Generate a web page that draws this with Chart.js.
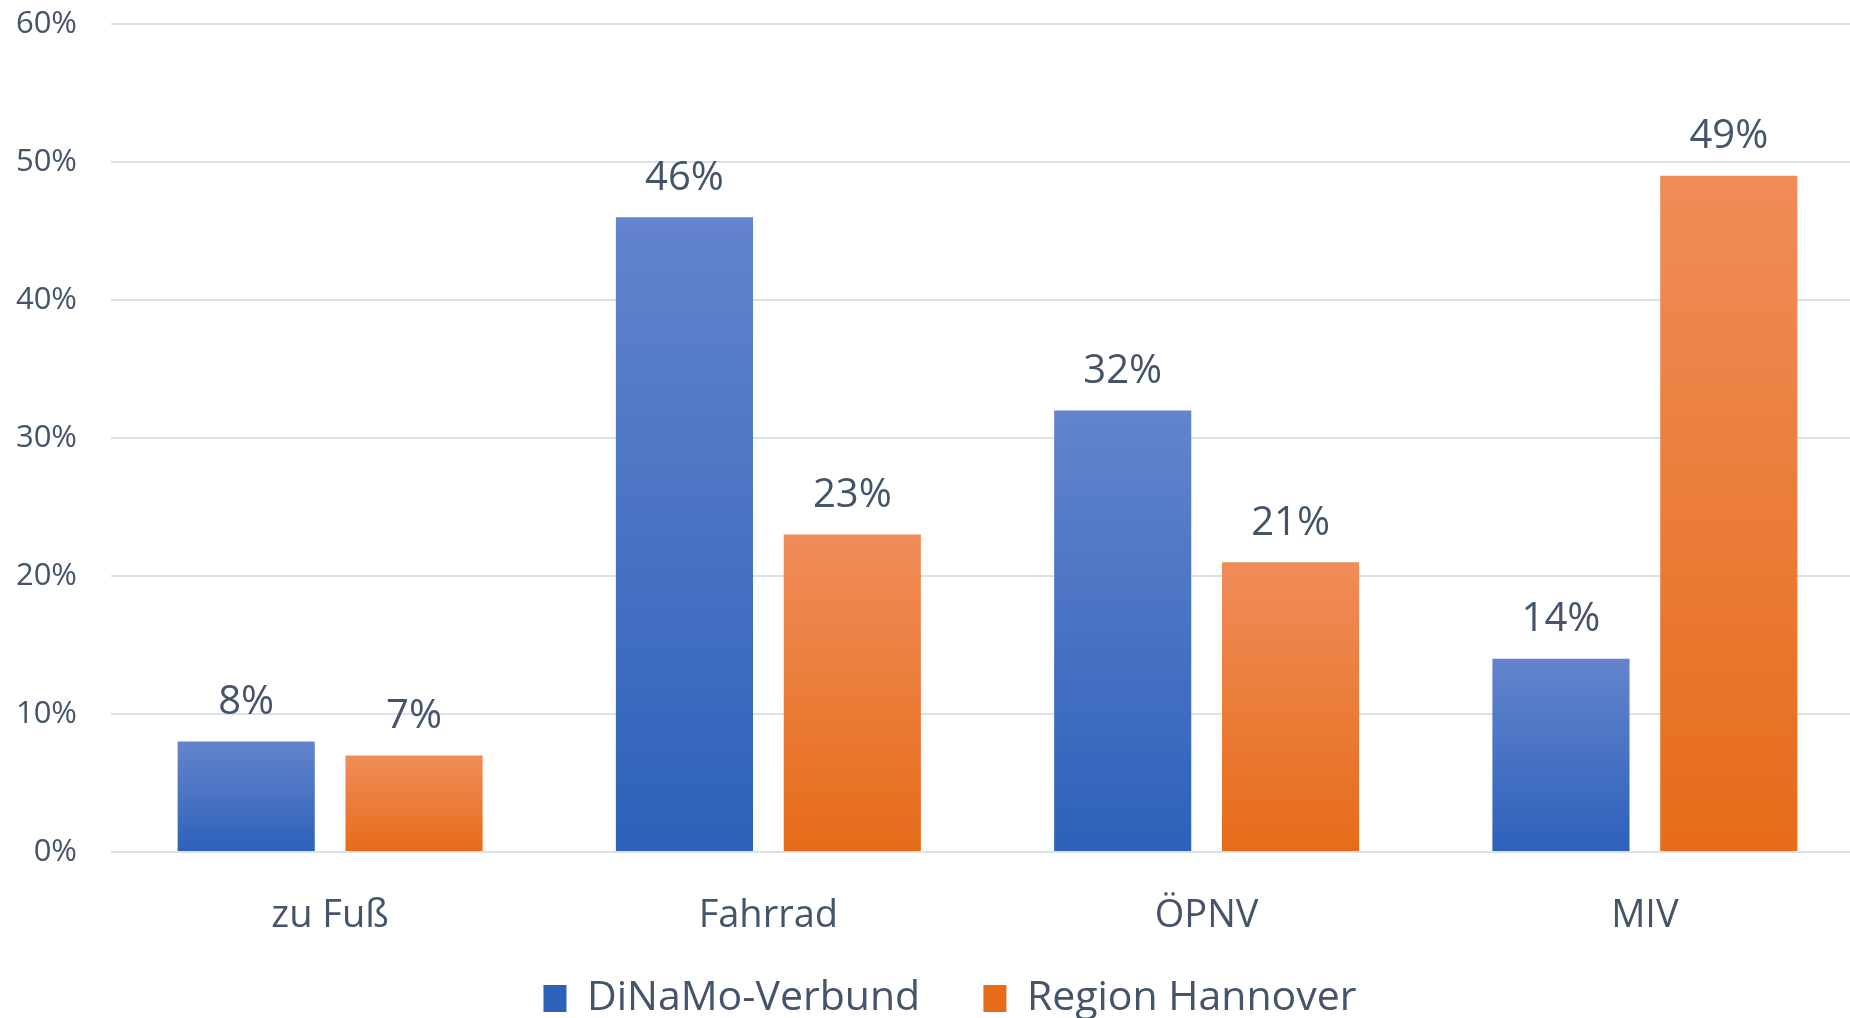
<!DOCTYPE html>
<html lang="de">
<head>
    <meta charset="UTF-8">
    <title>Verkehrsmittelwahl</title>
    <script src="https://cdn.jsdelivr.net/npm/chart.js"></script>
    <style>
        body { margin: 0; overflow: hidden; background: #fff; }
        .grafico { width: 1864px; height: 1018px; }
    </style>
</head>
<body>
    <div class="grafico">
        <canvas id="myChart"></canvas>
    </div>

<script>
// Daten
const kategorien = ['zu Fuß', 'Fahrrad', 'ÖPNV', 'MIV'];
const dinamo = [8, 46, 32, 14];
const hannover = [7, 23, 21, 49];
const yTicks = [0, 10, 20, 30, 40, 50, 60];

const textFarbe = '#44546A';
const schrift = 'Open Sans';

// Verlauf pro Balken (oben hell, unten dunkel)
function verlauf(hell, dunkel, mitte) {
    return function (context) {
        const chart = context.chart;
        if (!chart.chartArea || context.dataIndex === undefined || context.parsed === undefined) {
            return mitte;
        }
        const y = chart.scales.y;
        const top = y.getPixelForValue(context.parsed.y);
        const bottom = y.getPixelForValue(0);
        const g = chart.ctx.createLinearGradient(0, top, 0, bottom);
        g.addColorStop(0, hell);
        g.addColorStop(1, dunkel);
        return g;
    };
}

// Werte über den Balken
const wertePlugin = {
    id: 'werte',
    afterLayout(chart) {
        // Legende etwas nach rechts
        chart.legend.left += 18;
        chart.legend.right += 18;
    },
    afterDatasetsDraw(chart) {
        const ctx = chart.ctx;
        ctx.save();
        ctx.font = '40px "' + schrift + '"';
        ctx.fillStyle = textFarbe;
        ctx.textAlign = 'center';
        ctx.textBaseline = 'middle';
        chart.data.datasets.forEach(function (ds, i) {
            const meta = chart.getDatasetMeta(i);
            meta.data.forEach(function (bar, j) {
                ctx.fillText(ds.data[j] + '%', bar.x, bar.y - 39);
            });
        });
        ctx.restore();
    }
};

const dados = {
    labels: kategorien,
    datasets: [{
        label: 'DiNaMo-Verbund',
        data: dinamo,
        backgroundColor: verlauf('#6384CC', '#2D61BA', '#4772C6'),
        borderWidth: 0
    }, {
        label: 'Region Hannover',
        data: hannover,
        backgroundColor: verlauf('#F08C59', '#E66C19', '#F07C30'),
        borderWidth: 0
    }]
};

const config = {
    type: 'bar',
    data: dados,
    plugins: [wertePlugin],
    options: {
        responsive: true,
        maintainAspectRatio: false,
        animation: false,
        datasets: {
            bar: {
                categoryPercentage: 0.766,
                barPercentage: 0.817
            }
        },
        layout: {
            padding: { top: 24, left: 0, right: 0, bottom: -11 }
        },
        plugins: {
            tooltip: { enabled: false },
            legend: {
                position: 'bottom',
                labels: {
                    color: textFarbe,
                    font: { family: schrift, size: 41 },
                    boxWidth: 23,
                    boxHeight: 27,
                    padding: 10,
                    generateLabels: function (chart) {
                        const items = Chart.defaults.plugins.legend.labels.generateLabels(chart);
                        // etwas Abstand zwischen den Einträgen
                        items[0].text = items[0].text + '     ';
                        return items;
                    }
                }
            }
        },
        scales: {
            x: {
                grid: { display: false },
                border: { display: false },
                ticks: {
                    color: textFarbe,
                    font: { family: schrift, size: 38 },
                    padding: 33
                },
                afterFit: function (scale) {
                    scale.height = 116;
                    scale.paddingLeft = 0;
                    scale.paddingRight = 0;
                }
            },
            y: {
                min: 0,
                max: 60,
                afterBuildTicks: function (scale) {
                    scale.ticks = yTicks.map(function (v) { return { value: v }; });
                },
                grid: { color: '#DCE1E9', lineWidth: 2, drawTicks: false },
                border: { display: false },
                ticks: {
                    color: textFarbe,
                    font: { family: schrift, size: 31 },
                    padding: 34,
                    callback: function (v) { return v + '%'; }
                },
                afterFit: function (scale) {
                    scale.width = 111;
                    scale.paddingTop = 0;
                    scale.paddingBottom = 0;
                }
            }
        }
    }
};

let myChart = new Chart(document.getElementById('myChart'), config);
</script>
</body>
</html>
